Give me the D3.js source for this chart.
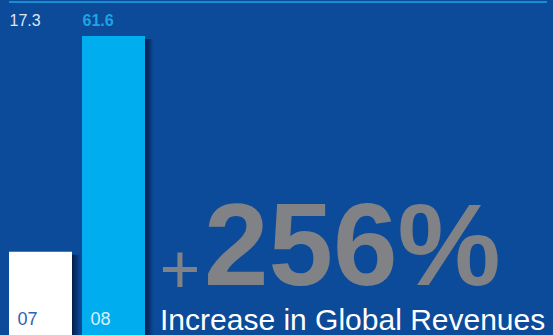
<!DOCTYPE html>
<html>
<head>
<meta charset="utf-8">
<script src="https://cdn.jsdelivr.net/npm/d3@7"></script>
<style>
  html, body { margin: 0; padding: 0; background: #0c4a9a; }
  svg { display: block; }
  text { font-family: "Liberation Sans", Arial, Helvetica, sans-serif; }
</style>
</head>
<body>
<svg id="chart" width="553" height="335"></svg>
<script>
// Global revenues by year (values shown above each bar)
const years = ["07", "08"];
const revenues = [17.3, 61.6];
const barColors = ["#ffffff", "#00aeef"];
const valueColors = ["#dfe6f2", "#1ea3e3"];
const yearColors = ["#2f62b6", "#d9f1ff"];
const headline = "Increase in Global Revenues";

const W = 553, H = 335;
const svg = d3.select("#chart");

// background
svg.append("rect").attr("width", W).attr("height", H).attr("fill", "#0c4a9a");

// soft shadow to the right of each bar
const defs = svg.append("defs");
const grad = defs.append("linearGradient").attr("id", "barShadow")
  .attr("x1", 0).attr("x2", 1).attr("y1", 0).attr("y2", 0);
grad.append("stop").attr("offset", 0).attr("stop-color", "#031a45").attr("stop-opacity", 0.95);
grad.append("stop").attr("offset", 0.5).attr("stop-color", "#06275e").attr("stop-opacity", 0.6);
grad.append("stop").attr("offset", 1).attr("stop-color", "#0c4a9a").attr("stop-opacity", 0);

const x = d3.scaleBand().domain(years).range([9, 145]).paddingInner(0.137).paddingOuter(0);
const y = d3.scaleLinear().domain([0, d3.max(revenues)]).range([336, 36]);

const data = years.map((yr, i) => ({ yr, v: revenues[i], i }));

// thin rule across the top
svg.append("line")
  .attr("x1", 9).attr("x2", 547).attr("y1", 2).attr("y2", 2)
  .attr("stroke", "#18a6e6").attr("stroke-width", 1.6);

const g = svg.append("g");

g.selectAll("rect.shadow").data(data).join("rect")
  .attr("class", "shadow")
  .attr("x", d => x(d.yr) + x.bandwidth())
  .attr("y", d => y(d.v) + 3)
  .attr("width", 10)
  .attr("height", d => y(0) - y(d.v))
  .attr("fill", "url(#barShadow)");

g.selectAll("rect.bar").data(data).join("rect")
  .attr("class", "bar")
  .attr("x", d => x(d.yr))
  .attr("y", d => y(d.v))
  .attr("width", x.bandwidth())
  .attr("height", d => y(0) - y(d.v))
  .attr("fill", d => barColors[d.i]);

// values along the top
g.selectAll("text.val").data(data).join("text")
  .attr("class", "val")
  .attr("x", d => x(d.yr) + 0.5)
  .attr("y", 26)
  .attr("font-size", 16)
  .attr("font-weight", d => d.i === 1 ? "bold" : "normal")
  .attr("fill", d => valueColors[d.i])
  .text(d => d3.format(".1f")(d.v));

// year labels inside the bars
g.selectAll("text.yr").data(data).join("text")
  .attr("class", "yr")
  .attr("x", d => x(d.yr) + 8.5)
  .attr("y", 325)
  .attr("font-size", 18)
  .attr("fill", d => yearColors[d.i])
  .text(d => d.yr);

// growth callout
const growth = Math.round((revenues[1] / revenues[0] - 1) * 100);

svg.append("text")
  .attr("x", 159.5).attr("y", 293)
  .attr("font-size", 70)
  .attr("fill", "#808285")
  .text("+");

svg.append("text")
  .attr("x", 204).attr("y", 285)
  .attr("font-size", 116)
  .attr("font-weight", "bold")
  .attr("fill", "#808285")
  .text(growth + "%");

svg.append("text")
  .attr("x", 160).attr("y", 330)
  .attr("font-size", 30)
  .attr("fill", "#ffffff")
  .text(headline);
</script>
</body>
</html>
